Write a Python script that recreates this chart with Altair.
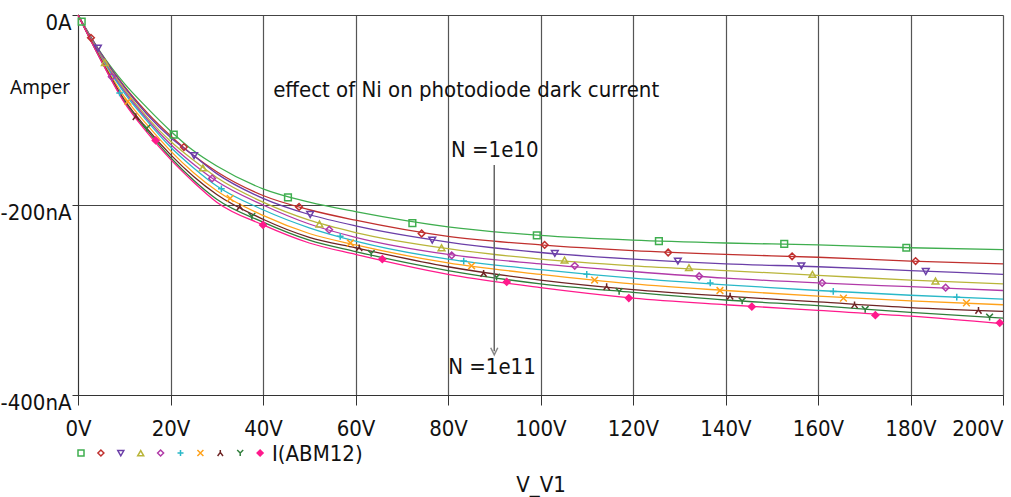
import altair as alt
import pandas as pd

# ---------------- data ----------------
series = ["1e10", "2e10", "3e10", "4e10", "5e10", "6e10", "7e10", "8e10", "9e10", "1e11"]
colors = ["#3fae4f", "#c0302e", "#6b3fa8", "#b9b53a", "#b13aa8", "#2ab8c8",
          "#ffa21a", "#6e2424", "#2f7d3a", "#ff1a8c"]

volts = [0, 5, 10, 15, 20, 25, 30, 40, 50, 60, 80, 100, 120, 140, 160, 180, 200]
cur_1e10 = [0, -40, -72, -98, -122, -143, -159, -183, -197, -207, -223, -232, -237, -240, -242, -245, -247]
cur_2e10 = [0, -41, -75, -103, -127, -148, -165, -190, -205, -216, -233, -242, -248, -252, -255, -259, -262]
cur_3e10 = [0, -41, -76, -105, -129, -148, -167, -193, -210, -222, -239, -250, -257, -262, -265, -269, -273]
cur_4e10 = [0, -43, -78, -108, -133, -153, -171, -197, -216, -229, -246, -257, -264, -269, -274, -279, -283]
cur_5e10 = [0, -44, -80, -110, -136, -157, -175, -200, -220, -234, -252, -262, -270, -277, -282, -286, -290]
cur_6e10 = [0, -45, -82, -112, -139, -161, -180, -205, -224, -238, -257, -268, -277, -284, -290, -295, -299]
cur_7e10 = [0, -46, -86, -116, -143, -166, -185, -211, -230, -242, -261, -273, -283, -290, -296, -301, -305]
cur_8e10 = [0, -47, -89, -120, -147, -170, -189, -215, -234, -245, -265, -279, -289, -296, -302, -308, -312]
cur_9e10 = [0, -48, -91, -122, -150, -174, -194, -218, -237, -249, -269, -283, -292, -300, -306, -313, -319]
cur_1e11 = [0, -48, -92, -124, -152, -176, -197, -221, -240, -252, -273, -287, -298, -305, -311, -317, -325]
currents = [cur_1e10, cur_2e10, cur_3e10, cur_4e10, cur_5e10,
            cur_6e10, cur_7e10, cur_8e10, cur_9e10, cur_1e11]

# marker positions as seen on each curve (volts, nA)
mk_v_1e10 = [0.8, 20.7, 45.4, 72.3, 99.2, 125.6, 152.7, 179.1]
mk_i_1e10 = [-7, -126, -192, -219, -232, -238, -241, -245]
mk_v_2e10 = [2.8, 22.9, 47.8, 74.3, 100.9, 127.6, 154.4, 181.1]
mk_i_2e10 = [-24, -139, -202, -230, -242, -250, -254, -259]
mk_v_3e10 = [4.3, 25.1, 50.2, 76.6, 103.1, 129.7, 156.4, 183.3]
mk_i_3e10 = [-35, -148, -210, -237, -251, -259, -264, -270]
mk_v_4e10 = [5.8, 27.0, 52.2, 78.6, 105.2, 132.1, 158.8, 185.4]
mk_i_4e10 = [-50, -161, -220, -245, -258, -266, -273, -280]
mk_v_5e10 = [7.3, 29.0, 54.3, 80.8, 107.4, 134.3, 160.9, 187.6]
mk_i_5e10 = [-65, -172, -226, -253, -264, -275, -282, -287]
mk_v_6e10 = [9.0, 31.0, 56.7, 83.4, 110.0, 136.7, 163.3, 190.0]
mk_i_6e10 = [-82, -183, -233, -259, -273, -282, -291, -297]
mk_v_7e10 = [10.8, 32.9, 58.9, 85.1, 111.7, 138.8, 165.5, 192.1]
mk_i_7e10 = [-91, -193, -240, -264, -279, -290, -298, -303]
mk_v_8e10 = [12.5, 35.0, 60.8, 87.7, 114.3, 141.0, 167.9, 194.7]
mk_i_8e10 = [-107, -202, -245, -272, -286, -296, -305, -311]
mk_v_9e10 = [14.9, 37.6, 63.4, 90.5, 117.0, 143.6, 170.2, 197.1]
mk_i_9e10 = [-119, -212, -251, -276, -291, -301, -310, -318]
mk_v_1e11 = [16.8, 40.0, 65.8, 92.7, 119.1, 145.7, 172.4, 199.3]
mk_i_1e11 = [-132, -221, -257, -281, -298, -307, -316, -324]
marker_v = [mk_v_1e10, mk_v_2e10, mk_v_3e10, mk_v_4e10, mk_v_5e10,
            mk_v_6e10, mk_v_7e10, mk_v_8e10, mk_v_9e10, mk_v_1e11]
marker_i = [mk_i_1e10, mk_i_2e10, mk_i_3e10, mk_i_4e10, mk_i_5e10,
            mk_i_6e10, mk_i_7e10, mk_i_8e10, mk_i_9e10, mk_i_1e11]

x_ticks = [0, 20, 40, 60, 80, 100, 120, 140, 160, 180, 200]
y_ticks = [-400, -200, 0]

# ---------------- tables ----------------
line_rows = []
for s, cur in zip(series, currents):
    for v, c in zip(volts, cur):
        line_rows.append({"series": s, "V": v, "I": c})
lines_df = pd.DataFrame(line_rows)

mark_rows = []
for s, mv, mi in zip(series, marker_v, marker_i):
    for v, c in zip(mv, mi):
        mark_rows.append({"series": s, "V": v, "I": c})
marks_df = pd.DataFrame(mark_rows)

shapes = [
    "square", "diamond", "triangle-down", "triangle-up", "diamond",
    "M-1,0L1,0M0,-1L0,1",                      # +
    "M-1,-1L1,1M-1,1L1,-1",                    # x
    "M0,-1L0,-0.2M0,-0.2L-0.9,1M0,-0.2L0.9,1",  # inverted Y
    "M-1,-1L0,0L1,-1M0,0L0,1",                 # Y
    "diamond",
]
fills = ["transparent"] * 9 + ["#ff1a8c"]

NARROW = "Liberation Sans Narrow, DejaVu Sans Condensed, sans-serif"

xs = alt.Scale(domain=[0, 200], nice=False)
ys = alt.Scale(domain=[-400, 0], nice=False)

x_axis = alt.Axis(values=x_ticks, labelExpr="datum.value + 'V'", grid=True,
                  gridColor="#555", gridWidth=1.2, domainColor="#333", tickColor="#333",
                  tickSize=10, labelFont=NARROW, labelFontSize=22, labelColor="#111",
                  labelPadding=13, title="V_V1", titleFont=NARROW, titleFontSize=22,
                  titleFontWeight="normal", titleColor="#111", titlePadding=35,
                  labelAlign={"condition": {"test": "datum.value == 200", "value": "right"},
                              "value": "center"},
                  labelOverlap=False, labelFlush=False)
y_axis = alt.Axis(values=y_ticks, labelExpr="datum.value == 0 ? '0A' : datum.value + 'nA'",
                  grid=True, gridColor="#444", gridWidth=1.2, domainColor="#333",
                  tickColor="#333", tickSize=6, labelFont=NARROW, labelFontSize=22,
                  labelColor="#111", labelPadding=1, labelOffset=7, title=None,
                  labelOverlap=False, labelFlush=False)

legend = alt.Legend(orient="none", legendX=-2, legendY=433, direction="horizontal",
                    columns=10, labelExpr="''", labelOffset=0, columnPadding=7.9,
                    symbolSize=36, symbolStrokeWidth=1.5, title="I(ABM12)",
                    titleOrient="right", titleFont=NARROW, titleFontSize=22,
                    titleFontWeight="normal", titleColor="#111", titlePadding=6,
                    titleBaseline="middle")

color_scale = alt.Scale(domain=series, range=colors)

lines = alt.Chart(lines_df).mark_line(strokeWidth=1.3, interpolate="monotone").encode(
    x=alt.X("V:Q", scale=xs, axis=x_axis),
    y=alt.Y("I:Q", scale=ys, axis=y_axis),
    color=alt.Color("series:N", scale=color_scale, legend=legend, title="I(ABM12)"),
    detail="series:N",
)

points = alt.Chart(marks_df).mark_point(size=45, strokeWidth=1.5, opacity=1).encode(
    x=alt.X("V:Q", scale=xs),
    y=alt.Y("I:Q", scale=ys),
    color=alt.Color("series:N", scale=color_scale, legend=legend, title="I(ABM12)"),
    shape=alt.Shape("series:N", scale=alt.Scale(domain=series, range=shapes),
                    legend=legend, title="I(ABM12)"),
    fill=alt.Fill("series:N", scale=alt.Scale(domain=series, range=fills),
                  legend=legend, title="I(ABM12)"),
)

# annotations
ann_df = pd.DataFrame({
    "V": [42.2, 90.1, 89.5],
    "I": [-79, -142, -371],
    "label": ["effect of Ni on photodiode dark current", "N =1e10", "N =1e11"],
})
ann_title = alt.Chart(ann_df).transform_filter(alt.datum.V < 50).mark_text(
    font=NARROW, fontSize=22, color="#111", align="left", baseline="middle").encode(
    x=alt.X("V:Q", scale=xs), y=alt.Y("I:Q", scale=ys), text="label:N")
ann_n = alt.Chart(ann_df).transform_filter(alt.datum.V > 50).mark_text(
    font=NARROW, fontSize=22, color="#111", align="center", baseline="middle").encode(
    x=alt.X("V:Q", scale=xs), y=alt.Y("I:Q", scale=ys), text="label:N")

arrow_df = pd.DataFrame({"V": [90.0], "I0": [-158], "I1": [-354]})
arrow_line = alt.Chart(arrow_df).mark_rule(color="#666", strokeWidth=1.5).encode(
    x=alt.X("V:Q", scale=xs), y=alt.Y("I0:Q", scale=ys), y2="I1:Q")
arrow_head = alt.Chart(arrow_df).mark_point(shape="M-1,-1L0,1L1,-1", size=50, color="#555",
                                            filled=False, strokeWidth=1.5).encode(
    x=alt.X("V:Q", scale=xs), y=alt.Y("I1:Q", scale=ys))

amper = alt.Chart(pd.DataFrame({"t": ["Amper"]})).mark_text(
    font="Noto Sans", fontSize=19, color="#111", align="left", baseline="middle").encode(
    x=alt.value(-68), y=alt.value(73), text="t:N")

chart = alt.layer(lines, points, ann_title, ann_n, arrow_line, arrow_head, amper).properties(
    width=925, height=380,
    autosize=alt.AutoSizeParams(type="none"),
    padding={"left": 78, "top": 15, "right": 8, "bottom": 102},
).configure_view(stroke=None)

chart.save("out.html", embed_options={"renderer": "svg", "actions": False})
